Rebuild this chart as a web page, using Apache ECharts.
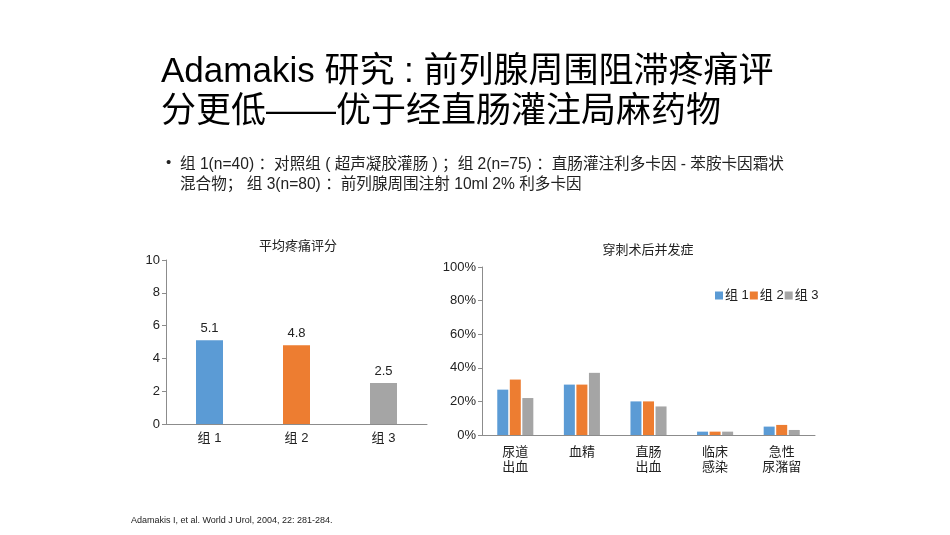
<!DOCTYPE html>
<html>
<head>
<meta charset="utf-8">
<script src="https://cdn.jsdelivr.net/npm/echarts@6/dist/echarts.min.js"></script>
<style>
  html, body { margin: 0; padding: 0; background: #fff; }
  #main { width: 950px; height: 535px; }
</style>
</head>
<body>
<div id="main"></div>
<script>
// 平均疼痛评分
const painGroups = ['组 1', '组 2', '组 3'];
const painScores = [5.1, 4.8, 2.5];
const painColors = ['#5B9BD5', '#ED7D31', '#A5A5A5'];

// 穿刺术后并发症
const complications = ['尿道\n出血', '血精', '直肠\n出血', '临床\n感染', '急性\n尿潴留'];
const group1 = [27, 30, 20, 2, 5];
const group2 = [33, 30, 20, 2, 6];
const group3 = [22, 37, 17, 2, 3];

const FONT = '"Liberation Sans", Arial, "Noto Sans CJK SC", sans-serif';
const axisColor = '#8c8c8c';

const chart = echarts.init(document.getElementById('main'));

chart.setOption({
  backgroundColor: '#fff',
  textStyle: { fontFamily: FONT },
  animation: false,
  title: [
    {
      text: '平均疼痛评分', left: 293, top: 235, textAlign: 'center',
      textStyle: { fontSize: 13, fontWeight: 'normal', color: '#222', fontFamily: FONT }
    },
    {
      text: '穿刺术后并发症', left: 643, top: 239, textAlign: 'center',
      textStyle: { fontSize: 13, fontWeight: 'normal', color: '#222', fontFamily: FONT }
    }
  ],
  legend: {
    data: ['组 1', '组 2', '组 3'],
    left: 710, top: 284,
    itemWidth: 8, itemHeight: 8, itemGap: 1,
    icon: 'rect',
    textStyle: { fontSize: 13, color: '#222', fontFamily: FONT, padding: [0, 0, 0, -3] }
  },
  grid: [
    { left: 166, top: 260, width: 261, height: 164 },
    { left: 482, top: 267, width: 333, height: 168 }
  ],
  xAxis: [
    {
      gridIndex: 0, type: 'category', data: painGroups,
      axisLine: { lineStyle: { color: axisColor } },
      axisTick: { lineStyle: { color: axisColor }, length: 5 },
      axisLabel: { fontSize: 13, color: '#222', margin: 8 }
    },
    {
      gridIndex: 1, type: 'category', data: complications,
      axisLine: { lineStyle: { color: axisColor } },
      axisTick: { lineStyle: { color: axisColor }, length: 5 },
      axisLabel: { fontSize: 13, color: '#222', margin: 10, lineHeight: 15, interval: 0 }
    }
  ],
  yAxis: [
    {
      gridIndex: 0, type: 'value', min: 0, max: 10, interval: 2,
      axisLine: { show: true, lineStyle: { color: axisColor } },
      axisTick: { show: true, inside: false, length: 4, lineStyle: { color: axisColor } },
      splitLine: { show: false },
      axisLabel: { fontSize: 13, color: '#222', margin: 6 }
    },
    {
      gridIndex: 1, type: 'value', min: 0, max: 100, interval: 20,
      axisLine: { show: true, lineStyle: { color: axisColor } },
      axisTick: { show: true, inside: false, length: 4, lineStyle: { color: axisColor } },
      splitLine: { show: false },
      axisLabel: { fontSize: 13, color: '#222', margin: 6, formatter: '{value}%' }
    }
  ],
  series: [
    {
      type: 'bar', xAxisIndex: 0, yAxisIndex: 0, barWidth: 27,
      data: painScores.map((v, i) => ({ value: v, itemStyle: { color: painColors[i] } })),
      label: { show: true, position: 'top', fontSize: 13, color: '#222', distance: 5 }
    },
    {
      name: '组 1', type: 'bar', xAxisIndex: 1, yAxisIndex: 1, data: group1,
      itemStyle: { color: painColors[0] }, barWidth: 11, barGap: '14%'
    },
    {
      name: '组 2', type: 'bar', xAxisIndex: 1, yAxisIndex: 1, data: group2,
      itemStyle: { color: painColors[1] }, barWidth: 11, barGap: '14%'
    },
    {
      name: '组 3', type: 'bar', xAxisIndex: 1, yAxisIndex: 1, data: group3,
      itemStyle: { color: painColors[2] }, barWidth: 11, barGap: '14%'
    }
  ],
  graphic: [
    {
      type: 'text', left: 161, top: 52,
      style: {
        text: 'Adamakis 研究 : 前列腺周围阻滞疼痛评\n分更低——优于经直肠灌注局麻药物',
        font: '35px ' + FONT, fill: '#000', lineHeight: 40
      }
    },
    {
      type: 'text', left: 166, top: 155,
      style: { text: '•', font: '15px ' + FONT, fill: '#222' }
    },
    {
      type: 'text', left: 180, top: 155,
      style: {
        text: '组 1(n=40) ：对照组 ( 超声凝胶灌肠 ) ；组 2(n=75) ：直肠灌注利多卡因 - 苯胺卡因霜状\n混合物； 组 3(n=80) ：前列腺周围注射 10ml 2% 利多卡因',
        font: '15.6px ' + FONT, fill: '#222', lineHeight: 20
      }
    },
    {
      type: 'text', left: 131, top: 516,
      style: {
        text: 'Adamakis I, et al. World J Urol, 2004, 22: 281-284.',
        font: '9px ' + FONT, fill: '#222'
      }
    }
  ]
});
</script>
</body>
</html>
